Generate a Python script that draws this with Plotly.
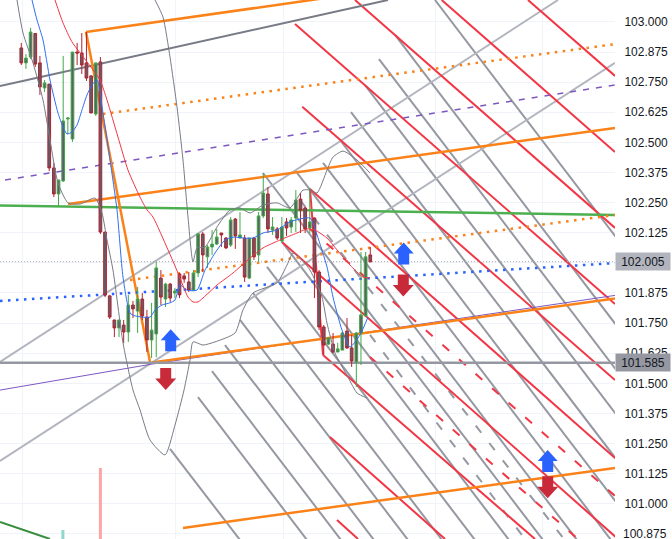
import plotly.graph_objects as go

# ---- price ticks ----
tick_prices = [103.000, 102.875, 102.750, 102.625, 102.500, 102.375, 102.250, 102.125,
               102.000, 101.875, 101.750, 101.625, 101.500, 101.375, 101.250, 101.125,
               101.000, 100.875]
time_grid = [22, 175, 283, 435, 542]
PRICE_TOP, PRICE_BOTTOM = 103.091, 100.854
last_price = 102.005
level_price = 101.585

# ---- candles ----
candle_time = [21.3 + 4.653 * i for i in range(76)]
c_open = [102.892,102.830,102.854,102.952,102.830,102.726,102.742,102.394,102.286,102.340,
          102.597,102.514,102.875,102.871,102.830,102.776,102.618,102.834,102.128,101.863,
          101.763,101.730,101.742,101.713,101.825,101.800,101.850,101.775,101.680,101.705,
          101.937,101.850,101.912,101.875,101.954,101.946,101.921,101.887,101.958,102.120,
          102.025,102.066,102.078,102.124,102.103,102.074,102.182,102.103,102.103,101.937,
          102.103,102.033,102.195,102.286,102.136,102.141,102.091,102.170,102.149,102.186,
          102.265,102.228,102.145,102.186,101.962,101.734,101.663,101.663,101.630,101.638,
          101.717,101.647,101.589,101.709,101.780,102.033]
c_high = [102.913,102.867,102.975,102.954,102.859,102.759,102.742,102.415,102.344,102.859,
          102.605,102.875,102.913,102.954,102.958,102.780,102.830,102.854,102.128,101.867,
          101.763,101.763,101.763,101.867,101.842,101.900,101.875,101.805,101.834,102.004,
          101.970,101.917,101.917,101.896,101.958,101.958,101.962,101.970,102.124,102.128,
          102.074,102.136,102.141,102.124,102.107,102.190,102.186,102.211,102.116,102.103,
          102.108,102.211,102.373,102.315,102.190,102.149,102.190,102.186,102.190,102.302,
          102.290,102.232,102.311,102.186,101.970,101.742,101.692,101.709,101.668,101.713,
          101.771,101.701,101.713,102.045,102.045,102.066]
c_low = [102.821,102.805,102.846,102.813,102.697,102.709,102.381,102.273,102.236,102.336,
         102.535,102.502,102.821,102.784,102.755,102.622,102.610,102.120,101.858,101.767,
         101.692,101.692,101.667,101.672,101.771,101.709,101.763,101.630,101.605,101.609,
         101.825,101.817,101.838,101.854,101.854,101.917,101.879,101.883,101.941,101.962,
         101.979,102.033,102.074,102.066,102.058,102.066,102.058,102.103,101.921,101.933,
         102.012,102.004,102.186,102.124,102.116,102.095,102.083,102.112,102.124,102.128,
         102.124,102.124,102.124,101.854,101.721,101.618,101.659,101.626,101.630,101.638,
         101.643,101.568,101.485,101.576,101.780,102.004]
c_close = [102.830,102.850,102.958,102.825,102.730,102.747,102.394,102.286,102.344,102.589,
           102.601,102.875,102.871,102.821,102.767,102.622,102.830,102.128,101.867,101.775,
           101.730,101.763,101.713,101.825,101.809,101.850,101.780,101.680,101.721,101.979,
           101.858,101.912,101.854,101.883,101.867,101.933,101.887,101.958,102.120,102.033,
           102.066,102.078,102.107,102.116,102.062,102.178,102.112,102.116,101.941,102.103,
           102.025,102.195,102.290,102.141,102.149,102.103,102.149,102.145,102.178,102.261,
           102.219,102.141,102.170,101.962,101.734,101.659,101.688,101.630,101.643,101.709,
           101.647,101.593,101.709,101.784,102.025,102.004]

# ---- moving averages and bands ----
blue_t = [32,37,43,50,58,63,67,72,77,82,87,92,97,103,110,117,123,130,135,150,155,162,170,175,180,187,197,205,215,225,233,245,253,263,277,290,310,317,327,333,342,350,360,368]
blue_p = [103.091,103.008,102.925,102.759,102.622,102.564,102.535,102.543,102.572,102.635,102.697,102.738,102.759,102.622,102.427,102.220,101.941,101.792,101.780,101.775,101.804,101.825,101.834,101.846,101.908,101.887,101.887,101.970,102.041,102.095,102.107,102.103,102.103,102.124,102.136,102.170,102.186,102.116,101.983,101.858,101.721,101.651,101.701,101.775]
red_t = [55,63,72,87,100,107,118,128,140,147,153,168,178,188,193,198,217,233,250,263,280,297,307,315,327,337,350,363,370]
red_p = [103.091,102.996,102.917,102.834,102.759,102.676,102.522,102.385,102.273,102.220,102.190,102.054,101.958,101.858,101.838,101.838,101.908,101.958,102.020,102.062,102.095,102.124,102.141,102.136,102.103,102.054,101.991,101.941,101.937]
band_up_t = [155,163,170,177,183,188,193,197,205,217,230,240,250,263,277,290,303,310,317,327,333,343,357,370]
band_up_p = [103.091,103.020,102.854,102.647,102.427,102.190,102.004,102.062,102.066,102.149,102.220,102.228,102.207,102.240,102.249,102.228,102.302,102.302,102.290,102.385,102.439,102.464,102.427,102.373]
band_lo_t = [17,23,33,43,50,58,68,80,95,102,107,113,123,133,140,150,165,175,184,190,193,203,215,235,243,253,277,287,293,300,310,322,327,335,348,357,367]
band_lo_p = [103.091,102.954,102.830,102.676,102.510,102.332,102.249,102.244,102.269,102.207,102.095,101.970,101.668,101.472,101.390,101.265,101.203,101.327,101.472,101.597,101.672,101.659,101.672,101.709,101.805,101.875,101.917,101.991,102.041,102.020,101.970,101.858,101.750,101.626,101.526,101.460,101.439]

# ---- volume ----
vol_t = [62.9, 100.4]
vol_v = [9, 71]
vol_colors = ["#8fd6cb", "#fba6a6"]

# ---- gann fan lines (time start, price start, time end, price end) ----
GRAY_END_PRICE = 100.85
gray_t0 = [170,198,212,225,240,253,267,282,263,295,323,340,351,365,379,395,435]
gray_p0 = [101.228,101.443,101.551,101.659,101.763,101.875,101.983,102.087,102.373,102.385,102.415,102.510,102.626,102.738,102.846,102.946,103.091]
gray_t1 = [240,307,341,374,408,442,475,509,543,577,611,645,678,712,746,780,847]

red_t0 = [355,441.7,528,295,302.3,310,282,323,330,337,310]
red_p0 = [103.091,103.091,103.091,102.991,102.648,102.307,102.087,101.618,101.277,100.933,102.307]
red_t1 = [615,615,615,615,615,615,618,535,445,358,323]
red_p1 = [102.145,102.460,102.776,101.829,101.514,101.190,100.854,100.854,100.854,100.854,101.618]

dash_red_t = [(310,615),(370,578)]
dash_red_p = [(102.141,101.033),(101.609,100.854)]
dash_gray_t = [(300,564),(370,525)]
dash_gray_p = [(102.261,100.854),(101.701,100.854)]

orange_t = [(86,325),(86,150),(152,615),(68,615),(183,615)]
orange_p = [(102.958,103.099),(102.958,101.589),(101.587,101.852),(102.244,102.560),(100.900,101.149)]
orange_dot_t = [(103,615),(130,615)]
orange_dot_p = [(102.618,102.908),(101.929,102.199)]
light_t = [(0,558),(0,615)]
light_p = [(101.589,103.091),(101.178,102.830)]
blue_dot_t, blue_dot_p = (0,615), (101.842,101.999)
purple_dash_t, purple_dash_p = (5,615), (102.344,102.738)
purple_t, purple_p = (0,152,615), (101.472,101.580,101.865)
slate_t, slate_p = (0,388), (102.734,103.091)
green_t, green_p = (0,615), (102.238,102.199)
dkgreen_t, dkgreen_p = (0,50), (100.925,100.854)

# ---- signal arrows: tip time, tip price ----
up_t = [170.7, 403.7, 547.7]
up_p = [101.725, 102.085, 101.223]
down_t = [165.7, 403.3, 547.7]
down_p = [101.472, 101.860, 101.023]

GRAY, LIGHT, RED, ORANGE = "#9598a1", "#b2b5be", "#f23645", "#fb8219"
FONT = "Liberation Sans"
XR, W, H = 615, 672, 539

fig = go.Figure()

def line(t, p, color, width, dash="solid", shape="linear", ax=None):
    ln = dict(color=color, width=width, dash=dash, shape=shape)
    if shape == "spline":
        ln["smoothing"] = 0.6
    fig.add_trace(go.Scatter(x=list(t), y=list(p), mode="lines", hoverinfo="skip", showlegend=False,
                             line=ln, xaxis="x2" if ax else "x", yaxis="y2" if ax else "y"))

fig.add_trace(go.Bar(x=vol_t, y=vol_v, width=3, marker=dict(color=vol_colors, line_width=0),
                     xaxis="x", yaxis="y3", showlegend=False, hoverinfo="skip"))

for a, b, c in zip(gray_t0, gray_p0, gray_t1):
    line((a, c), (b, GRAY_END_PRICE), GRAY, 2)
for t, p in zip(dash_gray_t, dash_gray_p):
    line(t, p, GRAY, 2, "9px,13px")
for t, p in zip(light_t, light_p):
    line(t, p, LIGHT, 2)
for a, b, c, d in zip(red_t0, red_p0, red_t1, red_p1):
    line((a, c), (b, d), RED, 2)
for t, p in zip(dash_red_t, dash_red_p):
    line(t, p, RED, 2, "9px,13px")
line(purple_t, purple_p, "#7e57c2", 1)
line(purple_dash_t, purple_dash_p, "#7e57c2", 1.5, "6px,7px")
line(slate_t, slate_p, "#787b86", 2)
line(green_t, green_p, "#4caf50", 2.5)
line(dkgreen_t, dkgreen_p, "#388e3c", 2)
for t, p in zip(orange_t, orange_p):
    line(t, p, ORANGE, 2.5)
for t, p in zip(orange_dot_t, orange_dot_p):
    line(t, p, ORANGE, 2.5, "2.5px,5.5px")
line(blue_dot_t, blue_dot_p, "#2962ff", 2.5, "2.5px,5.5px")
line((0, XR), (level_price, level_price), GRAY, 2.5)
line((0, XR), (last_price, last_price), "#a8abb3", 1, "1px,2px")

fig.add_trace(go.Candlestick(
    x=candle_time, open=c_open, high=c_high, low=c_low, close=c_close,
    increasing=dict(line=dict(color="#43a848", width=1), fillcolor="#5d606b"),
    decreasing=dict(line=dict(color="#b2222f", width=1), fillcolor="#5d606b"),
    whiskerwidth=0, xaxis="x2", yaxis="y2", showlegend=False, hoverinfo="skip"))

line(band_up_t, band_up_p, "#787b86", 1, shape="spline", ax=2)
line(band_lo_t, band_lo_p, "#787b86", 1, shape="spline", ax=2)
line(blue_t, blue_p, "#2e6ff2", 1, shape="spline", ax=2)
line(red_t, red_p, "#f23645", 1, shape="spline", ax=2)

UP_PATH = "M0,0 L10,-11 L5.5,-11 L5.5,-22 L-5.5,-22 L-5.5,-11 L-10,-11 Z"
DOWN_PATH = "M0,0 L10.5,11.5 L5.5,11.5 L5.5,22 L-5.5,22 L-5.5,11.5 L-10.5,11.5 Z"
shapes = []
for t, p in zip(up_t, up_p):
    shapes.append(dict(type="path", xref="x2", yref="y2", xsizemode="pixel", ysizemode="pixel",
                       xanchor=t, yanchor=p, path=UP_PATH, fillcolor="#2962ff", line_width=0))
for t, p in zip(down_t, down_p):
    shapes.append(dict(type="path", xref="x2", yref="y2", xsizemode="pixel", ysizemode="pixel",
                       xanchor=t, yanchor=p, path=DOWN_PATH, fillcolor="#c92a3a", line_width=0))

annos = []
for price, bg in ((last_price, "#b2b5be"), (level_price, "#9598a1")):
    annos.append(dict(xref="paper", yref="y", x=XR / W, y=price, xanchor="left", yanchor="middle",
                      text=f"{price:.3f}", showarrow=False, bgcolor=bg, width=52, height=15,
                      align="center", borderpad=1, font=dict(family=FONT, size=12, color="#131722")))
# the lowest tick sits so close to the window edge that it is placed by hand
annos.append(dict(xref="paper", yref="y", x=(XR + 6) / W, y=tick_prices[-1], xanchor="left",
                  yanchor="middle", text=f"{tick_prices[-1]:.3f}", showarrow=False,
                  font=dict(family=FONT, size=12, color="#131722")))

dom = [0, XR / W]
xaxis = dict(range=[0, XR], domain=dom, tickvals=time_grid, showticklabels=False, ticks="",
             showgrid=True, gridcolor="#f0f3fa", gridwidth=1, zeroline=False, showline=False,
             rangeslider=dict(visible=False))
yaxis = dict(range=[PRICE_BOTTOM, PRICE_TOP], side="right", anchor="x", tickvals=tick_prices,
             tickformat=".3f", ticks="outside", ticklen=6, tickcolor="rgba(0,0,0,0)",
             tickfont=dict(family=FONT, size=12, color="#131722"), showgrid=True,
             gridcolor="#f0f3fa", gridwidth=1, zeroline=False, showline=False)

fig.update_layout(
    width=W, height=H, margin=dict(l=0, r=0, t=0, b=0), autosize=False,
    paper_bgcolor="white", plot_bgcolor="white", showlegend=False, boxgap=0.42, boxgroupgap=0,
    xaxis=xaxis, yaxis=yaxis,
    xaxis2=dict(range=[0, XR], domain=dom, overlaying="x", visible=False, rangeslider=dict(visible=False)),
    yaxis2=dict(range=[PRICE_BOTTOM, PRICE_TOP], overlaying="y", anchor="x2", visible=False),
    yaxis3=dict(range=[0, H], overlaying="y", anchor="x", visible=False),
    shapes=shapes, annotations=annos,
)
fig.write_html("out.html", config=dict(displayModeBar=False),
               post_script="document.body.style.margin='0';")
